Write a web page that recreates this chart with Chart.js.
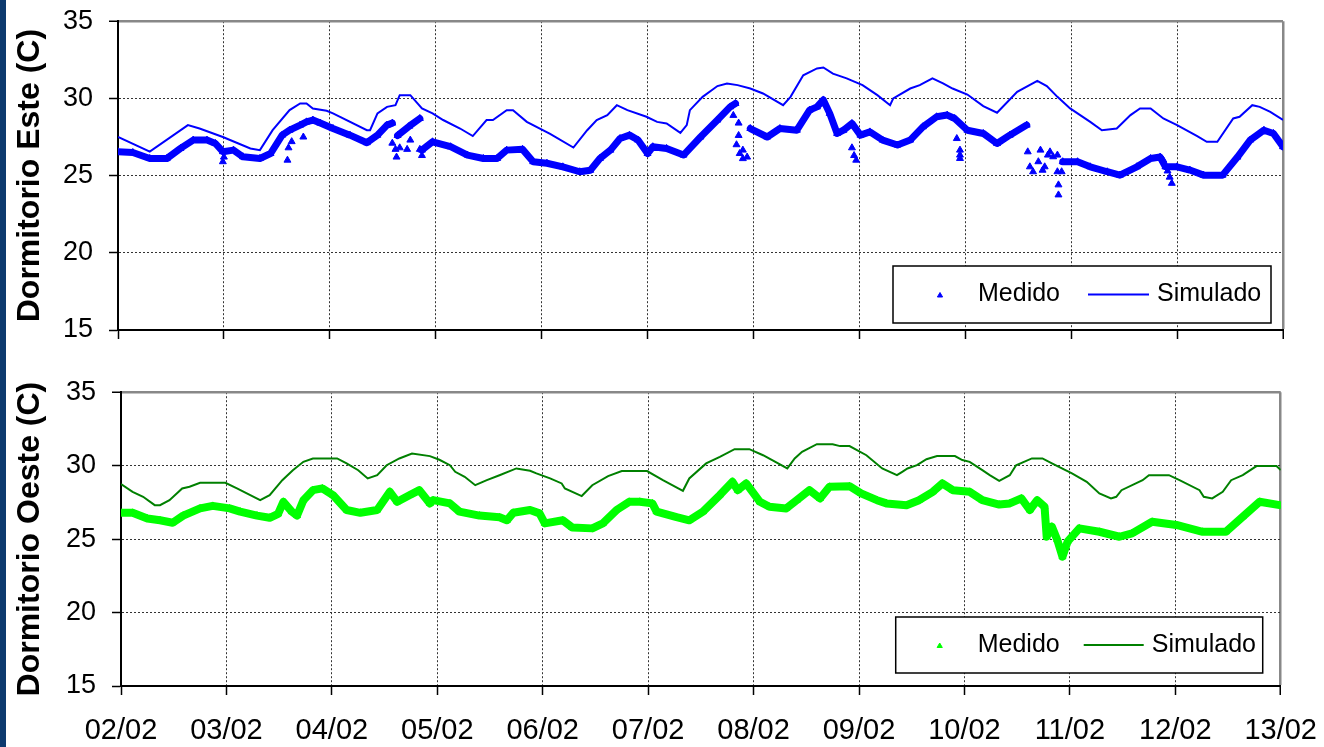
<!DOCTYPE html>
<html>
<head>
<meta charset="utf-8">
<script src="https://cdn.jsdelivr.net/npm/chart.js@4.4.0/dist/chart.umd.min.js"></script>
<style>
html,body{margin:0;padding:0;background:#fff;}
body{width:1324px;height:747px;position:relative;overflow:hidden;}
#c1{position:absolute;left:0;top:-11px;}
#c2{position:absolute;left:0;top:360px;}
#strip{position:absolute;left:0;top:0;width:6px;height:747px;background:#0d3a6e;}
</style>
</head>
<body>
<canvas id="c1" width="1324" height="381"></canvas>
<canvas id="c2" width="1336" height="387"></canvas>
<div id="strip"></div>
<script>
// ---------- data (x = days since 02/02 00:00) ----------
const dayLabels = ["02/02","03/02","04/02","05/02","06/02","07/02","08/02","09/02","10/02","11/02","12/02","13/02"];
const yTicks = [15, 20, 25, 30, 35];

// Dormitorio Este - Simulado
const simEsteX = [0,0.30,0.66,0.77,0.99,1.25,1.34,1.46,1.62,1.72,1.78,1.84,1.97,2.03,2.35,2.38,2.45,2.54,2.62,2.66,2.76,2.87,2.97,3.07,3.23,3.35,3.48,3.54,3.67,3.73,3.86,4.08,4.30,4.43,4.52,4.62,4.71,4.81,4.99,5.09,5.18,5.31,5.37,5.40,5.52,5.66,5.75,5.85,5.97,6.09,6.28,6.35,6.47,6.60,6.66,6.75,6.88,7.03,7.17,7.29,7.32,7.48,7.57,7.69,7.79,7.88,8.02,8.17,8.30,8.49,8.68,8.77,8.87,8.99,9.18,9.29,9.43,9.56,9.65,9.75,9.87,10.0,10.19,10.28,10.38,10.53,10.59,10.71,10.78,10.88,11.0];
const simEsteY = [27.5,26.55,28.27,28.05,27.5,26.76,26.65,27.94,29.24,29.67,29.67,29.35,29.2,29.03,27.94,27.94,29.03,29.45,29.56,30.21,30.21,29.35,29.03,28.6,28.05,27.56,28.6,28.6,29.24,29.24,28.48,27.7,26.82,27.94,28.6,28.92,29.56,29.24,28.81,28.48,28.38,27.77,28.27,29.24,30.1,30.8,30.97,30.86,30.64,30.32,29.56,30.1,31.5,31.94,32.0,31.6,31.3,30.86,30.21,29.56,30.0,30.64,30.86,31.3,30.97,30.64,30.25,29.5,29.07,30.43,31.14,30.8,30.1,29.35,28.48,27.94,28.05,28.92,29.35,29.35,28.7,28.27,27.56,27.19,27.19,28.7,28.81,29.56,29.45,29.13,28.6];

// Dormitorio Este - Medido (main band, null = break)
const medEsteX = [0,0.14,0.30,0.46,0.59,0.71,0.84,0.92,0.99,1.09,1.18,1.34,1.44,1.55,1.62,1.72,1.78,1.84,1.91,2.03,2.19,2.35,2.45,2.54,2.59,2.61,2.64,2.75,2.85,2.86,2.87,2.97,3.14,3.30,3.45,3.58,3.67,3.82,3.92,4.05,4.20,4.36,4.46,4.55,4.65,4.74,4.83,4.91,5.00,5.05,5.18,5.34,5.50,5.66,5.78,5.83,5.90,5.97,6.13,6.25,6.41,6.53,6.60,6.66,6.72,6.79,6.85,6.93,7.01,7.10,7.22,7.36,7.48,7.60,7.73,7.83,7.90,8.02,8.17,8.30,8.42,8.58,8.75,8.92,9.06,9.18,9.34,9.46,9.62,9.75,9.84,9.89,10.0,10.12,10.25,10.43,10.57,10.69,10.82,10.91,11.0];
const medEsteY = [26.55,26.5,26.11,26.1,26.76,27.3,27.3,27.08,26.55,26.65,26.22,26.11,26.43,27.62,27.94,28.27,28.48,28.6,28.4,28.05,27.62,27.13,27.62,28.27,28.4,null,27.6,28.2,28.7,null,26.65,27.19,26.87,26.33,26.11,26.11,26.65,26.7,25.9,25.8,25.57,25.25,25.35,26.11,26.65,27.4,27.62,27.3,26.43,26.87,26.76,26.33,27.5,28.6,29.45,29.67,null,28.05,27.5,28.05,27.94,29.24,29.45,29.9,29.03,27.73,27.94,28.38,27.62,27.83,27.3,26.98,27.3,28.16,28.81,28.92,28.7,27.94,27.73,27.08,27.62,28.27,null,25.9,25.9,25.57,25.25,25.03,25.57,26.11,26.2,25.57,25.57,25.36,25.03,25.03,26.2,27.3,27.94,27.73,26.87];
// Dormitorio Este - Medido (scattered readings)
const medEsteOutX = [0.99,1.00,1.60,1.61,1.64,1.75,2.59,2.62,2.63,2.66,2.73,2.76,2.85,2.87,5.81,5.86,5.86,5.84,5.90,5.87,5.94,5.90,6.93,6.95,6.97,7.92,7.95,7.95,7.95,8.59,8.61,8.64,8.69,8.71,8.73,8.75,8.78,8.80,8.83,8.87,8.87,8.88,8.88,8.91,9.87,9.91,9.93,9.95];
const medEsteOutY = [25.9,26.2,26.0,26.8,27.2,27.5,27.1,26.7,26.2,26.8,26.7,27.3,26.7,26.3,28.9,28.4,27.6,27.0,26.65,26.43,26.2,26.1,26.8,26.3,26.0,27.4,26.65,26.33,26.11,26.54,25.57,25.25,25.9,26.65,25.35,25.57,26.33,26.54,26.22,26.33,25.25,24.4,23.75,25.25,26.0,25.3,24.9,24.5];

// Dormitorio Oeste - Simulado
const simOesteX = [0,0.11,0.21,0.32,0.37,0.46,0.58,0.65,0.75,0.99,1.10,1.32,1.41,1.53,1.63,1.73,1.82,2.05,2.14,2.25,2.34,2.43,2.52,2.64,2.76,2.93,3.02,3.12,3.17,3.26,3.36,3.47,3.59,3.75,3.88,3.94,4.07,4.18,4.21,4.37,4.47,4.62,4.75,4.99,5.14,5.33,5.39,5.55,5.68,5.82,5.96,6.09,6.32,6.39,6.46,6.60,6.75,6.82,6.91,7.07,7.22,7.36,7.41,7.46,7.55,7.64,7.74,7.91,7.98,8.05,8.17,8.24,8.33,8.43,8.49,8.64,8.74,8.83,9.02,9.16,9.28,9.39,9.44,9.49,9.69,9.75,9.94,10.04,10.23,10.27,10.35,10.45,10.53,10.64,10.77,10.96,11.0];
const simOesteY = [28.74,28.22,27.88,27.31,27.31,27.65,28.45,28.56,28.83,28.83,28.45,27.65,27.99,29.01,29.69,30.26,30.49,30.49,30.15,29.69,29.13,29.35,30.03,30.49,30.83,30.65,30.4,30.03,29.58,29.24,28.67,29.01,29.35,29.81,29.65,29.47,29.13,28.79,28.45,27.93,28.67,29.29,29.63,29.63,29.01,28.29,29.13,30.15,30.6,31.12,31.12,30.71,29.81,30.49,30.94,31.46,31.46,31.33,31.33,30.71,29.81,29.35,29.58,29.81,30.03,30.44,30.65,30.65,30.38,30.26,29.69,29.35,28.97,29.35,30.03,30.49,30.49,30.15,29.47,28.9,28.11,27.77,27.88,28.33,29.01,29.35,29.35,29.01,28.33,27.88,27.77,28.22,29.01,29.35,29.97,29.97,29.7];

// Dormitorio Oeste - Medido
const medOesteX = [0,0.11,0.25,0.37,0.49,0.59,0.75,0.87,1.03,1.13,1.29,1.41,1.49,1.54,1.62,1.67,1.73,1.82,1.91,2.01,2.14,2.27,2.43,2.55,2.62,2.74,2.83,2.93,2.96,3.12,3.21,3.40,3.59,3.66,3.72,3.88,3.97,4.02,4.19,4.28,4.47,4.57,4.70,4.82,4.92,5.04,5.08,5.27,5.39,5.52,5.68,5.80,5.85,5.93,6.06,6.15,6.31,6.41,6.53,6.63,6.72,6.91,7.02,7.17,7.26,7.45,7.57,7.70,7.79,7.89,8.05,8.17,8.33,8.43,8.54,8.62,8.69,8.76,8.78,8.83,8.88,8.93,8.98,9.09,9.28,9.47,9.59,9.78,10.01,10.26,10.48,10.64,10.80,10.99];
const medOesteY = [26.79,26.79,26.4,26.28,26.11,26.6,27.09,27.26,27.09,26.87,26.6,26.45,26.72,27.54,26.87,26.6,27.65,28.33,28.45,28.0,26.98,26.79,26.98,28.22,27.54,28.0,28.33,27.43,27.65,27.43,26.87,26.6,26.49,26.28,26.79,26.98,26.75,26.07,26.28,25.79,25.73,26.07,26.98,27.54,27.54,27.43,26.87,26.49,26.28,26.87,28.0,28.9,28.33,28.79,27.54,27.2,27.09,27.65,28.33,27.77,28.56,28.6,28.11,27.65,27.43,27.31,27.65,28.22,28.79,28.33,28.22,27.65,27.35,27.43,27.77,26.98,27.65,27.2,25.16,25.84,24.96,23.8,24.85,25.73,25.5,25.16,25.39,26.18,25.96,25.5,25.5,26.52,27.54,27.31];

// ---------- helpers ----------
const FONT = "'Liberation Sans', Arial, sans-serif";
const pts = (xs, ys) => xs.map((x, i) => ({x: x, y: ys[i]}));

const boxLegend = {
  id: 'boxLegend',
  afterDraw(chart, args, o) {
    if (!o || !o.w) return;
    const ctx = chart.ctx, a = chart.chartArea;
    const x = a.right - o.offRight - o.w;
    const y = a.bottom - o.offBottom - o.h;
    const cy = y + o.h / 2;
    const ds = chart.data.datasets;
    ctx.save();
    ctx.fillStyle = '#fff';
    ctx.fillRect(x, y, o.w, o.h);
    ctx.strokeStyle = '#000';
    ctx.lineWidth = 1.5;
    ctx.strokeRect(x, y, o.w, o.h);
    ctx.fillStyle = ds[0].pointBackgroundColor;
    ctx.strokeStyle = ds[0].pointBorderColor;
    ctx.lineWidth = 1;
    Chart.helpers.drawPoint(ctx, {pointStyle: 'triangle', radius: 3, borderWidth: 1, rotation: 0}, x + o.markX, cy + 1);
    ctx.strokeStyle = ds[2].borderColor;
    ctx.lineWidth = 2;
    ctx.beginPath();
    ctx.moveTo(x + o.lineX1, cy);
    ctx.lineTo(x + o.lineX2, cy);
    ctx.stroke();
    ctx.fillStyle = '#000';
    ctx.font = o.fontSize + 'px ' + FONT;
    ctx.textBaseline = 'middle';
    ctx.textAlign = 'left';
    ctx.fillText(ds[0].label, x + o.text1X, cy);
    ctx.fillText(ds[2].label, x + o.text2X, cy);
    ctx.restore();
  }
};

function makeChart(id, cfg) {
  const gridColor = '#333';
  return new Chart(document.getElementById(id), {
    type: 'scatter',
    data: {
      datasets: [
        {
          label: 'Medido', data: pts(cfg.medX, cfg.medY), showLine: true, spanGaps: false,
          borderColor: cfg.medColor, borderWidth: cfg.bandWidth, borderJoinStyle: 'round', borderCapStyle: 'round',
          pointStyle: 'triangle', pointRadius: 4, pointBorderWidth: 1,
          pointBackgroundColor: cfg.medColor, pointBorderColor: cfg.medColor, tension: 0
        },
        {
          label: 'Medido (dispersos)', data: pts(cfg.outX, cfg.outY), showLine: false,
          pointStyle: 'triangle', pointRadius: 4, pointBorderWidth: 1,
          pointBackgroundColor: cfg.outFill, pointBorderColor: cfg.medColor
        },
        {
          label: 'Simulado', data: pts(cfg.simX, cfg.simY), showLine: true,
          borderColor: cfg.simColor, borderWidth: 2, pointRadius: 0, tension: 0
        }
      ]
    },
    options: {
      responsive: false, animation: false, devicePixelRatio: 1,
      events: [],
      layout: {padding: {left: 0, right: cfg.padRight, top: 0, bottom: 0}},
      plugins: {
        legend: {display: false},
        tooltip: {enabled: false},
        boxLegend: cfg.legend
      },
      scales: {
        x: {
          type: 'linear', min: 0, max: dayLabels.length - 1,
          ticks: {
            display: cfg.showX, stepSize: 1, autoSkip: false, maxRotation: 0,
            callback: (v) => dayLabels[v],
            font: {family: FONT, size: 29}, color: '#000', padding: cfg.xPad
          },
          grid: {
            color: (c) => (c.index === dayLabels.length - 1 ? '#888' : gridColor),
            lineWidth: (c) => (c.index === dayLabels.length - 1 ? 2.5 : 1),
            tickLength: 9, tickColor: '#000', tickWidth: 1.5, tickBorderDash: []
          },
          border: {
            display: true, color: '#000', width: 2,
            dash: (c) => (c.index === dayLabels.length - 1 ? [] : [2, 2])
          },
          afterFit: (s) => { s.height = cfg.xHeight; }
        },
        y: {
          min: yTicks[0], max: yTicks[yTicks.length - 1],
          afterBuildTicks: (s) => { s.ticks = yTicks.map(v => ({value: v})); },
          ticks: {font: {family: FONT, size: 27}, color: '#000', padding: 16},
          grid: {
            color: (c) => (c.tick && c.tick.value === 35 ? '#888' : gridColor),
            lineWidth: (c) => (c.tick && c.tick.value === 35 ? 2.5 : 1),
            tickLength: 9, tickColor: '#000', tickWidth: 1.5, tickBorderDash: []
          },
          border: {
            display: true, color: '#000', width: 2,
            dash: (c) => (c.tick && c.tick.value === 35 ? [] : [2, 2])
          },
          title: {
            display: true, text: cfg.title, color: '#000',
            font: {family: FONT, size: 32, weight: 'bold'},
            padding: {top: 11, bottom: 0}
          },
          afterFit: (s) => { s.width = cfg.yWidth; }
        }
      }
    },
    plugins: [boxLegend]
  });
}

makeChart('c1', {
  title: 'Dormitorio Este (C)',
  medX: medEsteX, medY: medEsteY, outX: medEsteOutX, outY: medEsteOutY,
  simX: simEsteX, simY: simEsteY,
  medColor: '#0000ff', outFill: '#0000ff', simColor: '#0000ff', bandWidth: 7,
  padRight: 41, yWidth: 118, xHeight: 40, showX: false, xPad: 10,
  legend: {w: 378, h: 57, offRight: 12, offBottom: 7, markX: 47, text1X: 85, lineX1: 195, lineX2: 256, text2X: 264, fontSize: 25}
});

makeChart('c2', {
  title: 'Dormitorio Oeste (C)',
  medX: medOesteX, medY: medOesteY, outX: [], outY: [],
  simX: simOesteX, simY: simOesteY,
  medColor: '#00ff00', outFill: '#00ff00', simColor: '#008000', bandWidth: 8,
  padRight: 43, yWidth: 121, xHeight: 61, showX: true, xPad: 19,
  legend: {w: 367, h: 56, offRight: 18, offBottom: 13, markX: 44, text1X: 82, lineX1: 188, lineX2: 248, text2X: 256, fontSize: 25}
});
</script>
</body>
</html>
